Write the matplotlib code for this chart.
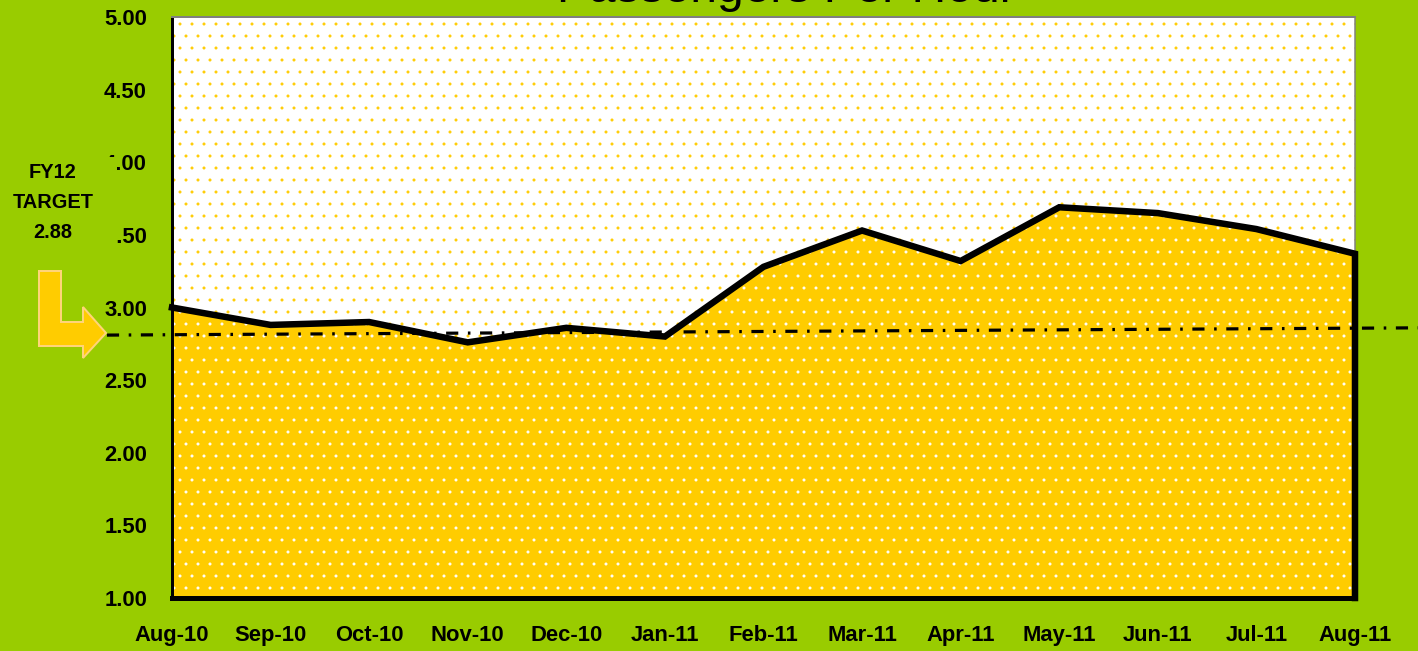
import matplotlib
matplotlib.use("Agg")
import matplotlib.pyplot as plt
from matplotlib.patches import Polygon, Rectangle
import numpy as np

# Passengers per hour, Aug-10 .. Aug-11
months = ["Aug-10", "Sep-10", "Oct-10", "Nov-10", "Dec-10", "Jan-11", "Feb-11",
          "Mar-11", "Apr-11", "May-11", "Jun-11", "Jul-11", "Aug-11"]
passengers = [3.00, 2.88, 2.90, 2.76, 2.86, 2.80, 3.28, 3.53, 3.32, 3.69, 3.65, 3.54, 3.37]
yticks = [1.00, 1.50, 2.00, 2.50, 3.00, 3.50, 4.00, 4.50, 5.00]

# hand-drawn target line on the slide (ends slightly off level)
target_x = [-0.66, 12.64]
target_y = [2.81, 2.86]
target_text = ["FY12", "TARGET", "2.88"]
title = "Passengers Per Hour"

GREEN = "#99cc00"
GOLD = "#ffcc00"
W, H = 1418, 651
DPI = 72

plt.rcParams["font.family"] = ["Liberation Sans", "DejaVu Sans"]
plt.rcParams["hatch.linewidth"] = 0.5


def fx(px):
    return px / W


def fy(py):
    return 1 - py / H


fig = plt.figure(figsize=(W / DPI, H / DPI), dpi=DPI, facecolor=GREEN)
ax = fig.add_axes([fx(172), fy(598), fx(1355) - fx(172), fy(17) - fy(598)])

x = np.arange(len(months))

# dotted white background and dotted gold area
ax.axhspan(1, 5, facecolor="white", edgecolor=GOLD, hatch=".", linewidth=0, zorder=0)
ax.fill_between(x, 1, passengers, facecolor=GOLD, edgecolor="white", hatch=".",
                linewidth=0, zorder=1)
ax.plot(list(x) + [x[-1]], passengers + [1.0], color="black", lw=6.5,
        solid_joinstyle="miter", zorder=3, clip_on=False)

ax.plot(target_x, target_y, color="black", lw=3.2, dashes=(3.8, 3.0, 0.8, 3.0),
        zorder=4, clip_on=False)

ax.set_xlim(0, 12)
ax.set_ylim(1, 5)
ax.set_xticks(x)
ax.set_xticklabels(months)
ax.set_yticks(yticks)
ax.set_yticklabels(["%.2f" % v for v in yticks])
ax.tick_params(length=0, labelsize=22)
ax.tick_params(axis="y", pad=25)
ax.tick_params(axis="x", pad=27)
for lab in ax.get_xticklabels() + ax.get_yticklabels():
    lab.set_fontweight("bold")

ax.spines["left"].set_color("black")
ax.spines["left"].set_linewidth(3)
ax.spines["bottom"].set_color("black")
ax.spines["bottom"].set_linewidth(5)
ax.spines["top"].set_color("#808080")
ax.spines["top"].set_linewidth(2)
ax.spines["right"].set_color("#808080")
ax.spines["right"].set_linewidth(1.5)

# title, mostly cut off by the top of the slide (as in the original)
fig.text(fx(786), fy(1.5), title, ha="center", va="baseline", fontsize=48)

# green text box of the target callout hides part of two tick labels
fig.patches.append(Rectangle((0, fy(252)), fx(117), fy(157) - fy(252),
                             transform=fig.transFigure, facecolor=GREEN,
                             edgecolor="none", zorder=5))
for i, t in enumerate(target_text):
    fig.text(fx(53), fy(173 + 30 * i), t, ha="center", va="center",
             fontsize=20, fontweight="bold", zorder=6)

arrow = [(39, 271), (61, 271), (61, 322), (83, 322), (83, 307), (106, 333),
         (83, 358), (83, 346), (39, 346)]
fig.patches.append(Polygon([(fx(a), fy(b)) for a, b in arrow], closed=True,
                           transform=fig.transFigure, facecolor=GOLD,
                           edgecolor="#ffd47a", lw=2, zorder=6))

fig.savefig("out.png", dpi=DPI, facecolor=GREEN)
